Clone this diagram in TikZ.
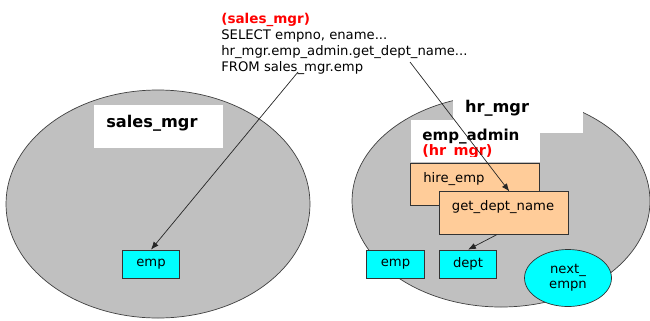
\documentclass[tikz,border=0pt]{standalone}
\usepackage{fontspec}
\setmainfont{DejaVu Sans}
\usetikzlibrary{shapes.geometric,arrows.meta}
\definecolor{schemagray}{RGB}{192,192,192}
\definecolor{tblcyan}{RGB}{0,255,255}
\definecolor{pkgorange}{RGB}{255,204,153}
\definecolor{ownred}{RGB}{255,0,0}

\begin{document}
\begin{tikzpicture}[font=\fontsize{7.5}{9}\selectfont,inner sep=0pt,
    schema/.style={draw=black!75,fill=schemagray,thin},
    tbl/.style={draw=black!80,fill=tblcyan,minimum width=1.15cm,minimum height=0.56cm},
    pkgbox/.style={draw=black!80,fill=pkgorange,minimum width=2.58cm,minimum height=0.85cm},
    seqnode/.style={ellipse,draw=black!80,fill=tblcyan,minimum width=1.74cm,minimum height=1.14cm,
      align=center,font=\fontsize{7.5}{8.4}\selectfont},
    call/.style={-{Latex[length=4.5pt,width=3.5pt]},black!85},
    bigbold/.style={font=\fontsize{9.2}{11}\selectfont\bfseries}]
    \useasboundingbox (0,0) rectangle (13,6.4);

    % query issued by sales_mgr
    \node[anchor=base west,ownred,font=\fontsize{7.7}{9}\selectfont\bfseries] (q0) at (4.42,5.94) {(sales\_mgr)};
    \node[anchor=base west] (q1) at (4.42,5.62) {SELECT empno, ename...};
    \node[anchor=base west] (q2) at (4.42,5.30) {hr\_mgr.emp\_admin.get\_dept\_name...};
    \node[anchor=base west] (q3) at (4.42,4.98) {FROM sales\_mgr.emp};

    % sales_mgr schema
    \draw[schema] (3.16,2.32) ellipse (3.04 and 2.28);
    \fill[white] (1.88,3.44) rectangle (4.46,4.30);
    \node[anchor=base west,bigbold] (sm) at (2.12,3.86) {sales\_mgr};
    \node[tbl] (emp1) at (3.02,1.12) {emp};

    % hr_mgr schema
    \draw[schema] (10.02,2.38) ellipse (2.98 and 2.12);
    \fill[white] (9.06,3.74) rectangle (11.66,4.64);
    \fill[white] (8.22,3.16) rectangle (10.80,4.00);
    \node[anchor=base,bigbold] (hm) at (9.94,4.16) {hr\_mgr};
    \node[anchor=base west,font=\fontsize{8.6}{10}\selectfont\bfseries] (adm) at (8.44,3.60) {emp\_admin};
    \begin{scope}
      \clip (8.22,3.265) rectangle (10.80,3.60);
      \node[anchor=base west,ownred,font=\fontsize{8.2}{10}\selectfont\bfseries] (own) at (8.44,3.29) {(hr\_mgr)};
    \end{scope}
    \node[pkgbox] (hire) at (9.49,2.71) {};
    \node[anchor=base west] (hiretxt) at (8.46,2.76) {hire\_emp};
    \node[pkgbox] (get) at (10.07,2.14) {};
    \node[anchor=base] (gettxt) at (10.06,2.20) {get\_dept\_name};
    \node[tbl] (emp2) at (7.91,1.12) {emp};
    \node[tbl] (dept) at (9.36,1.12) {dept};
    \node[seqnode] (nextemp) at (11.36,0.84) {next\_\\empn};

    % references
    \coordinate (src1) at (5.96,4.96);
    \coordinate (src2) at (8.20,5.16);
    \draw[call] (src1) -- (emp1.north);
    \draw[call] (src2) -- (get.75);
    \draw[call] (get.-107) -- (dept.north);
  \end{tikzpicture}
\end{document}
